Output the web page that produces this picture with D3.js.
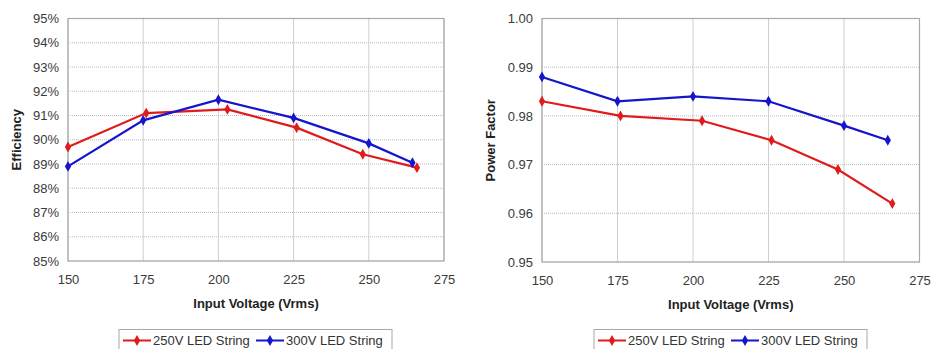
<!DOCTYPE html>
<html lang="en">
<head>
<meta charset="UTF-8">
<title>Efficiency and Power Factor</title>
<script src="https://cdn.jsdelivr.net/npm/d3@7"></script>
<style>
    html, body { margin: 0; padding: 0; background: #fff; }
    text { font-family: "Liberation Sans", Arial, sans-serif; fill: #333; }
    .tick text { font-size: 13px; fill: #3a3a3a; }
    .title { font-size: 13px; font-weight: bold; fill: #222; }
    .legend text { font-size: 13px; }
</style>
</head>
<body>
<script>
// data
var seriesNames = ["250V LED String", "300V LED String"];
var seriesColors = ["#e01b1b", "#1515cc"];

var effVoltsRed  = [150, 176, 203, 226, 248, 266];
var effRed       = [89.7, 91.1, 91.25, 90.5, 89.4, 88.85];
var effVoltsBlue = [150, 175, 200, 225, 250, 264.5];
var effBlue      = [88.9, 90.8, 91.65, 90.9, 89.85, 89.05];

var pfVoltsRed  = [150, 176, 203, 226, 248, 266];
var pfRed       = [0.983, 0.980, 0.979, 0.975, 0.969, 0.962];
var pfVoltsBlue = [150, 175, 200, 225, 250, 264.5];
var pfBlue      = [0.988, 0.983, 0.984, 0.983, 0.978, 0.975];

var xTicks = [150, 175, 200, 225, 250, 275];
var effTicks = [85, 86, 87, 88, 89, 90, 91, 92, 93, 94, 95];
var pfTicks = [0.95, 0.96, 0.97, 0.98, 0.99, 1.00];

var svg = d3.select("body").append("svg").attr("width", 931).attr("height", 349);

function zip(xs, ys) { return xs.map(function(x, i) { return { v: x, y: ys[i] }; }); }

function drawChart(opt) {
    var g = svg.append("g");
    var x = d3.scaleLinear().domain([150, 275]).range([opt.left, opt.right]);
    var y = d3.scaleLinear().domain(opt.yDomain).range([opt.bottom, opt.top]);

    // horizontal grid (dotted)
    g.selectAll("line.hg").data(opt.yTicks).enter().append("line")
        .attr("x1", opt.left).attr("x2", opt.right)
        .attr("y1", function(d) { return y(d); }).attr("y2", function(d) { return y(d); })
        .attr("stroke", "#bdbdbd").attr("stroke-width", 1).attr("stroke-dasharray", "1,1");
    // vertical grid
    g.selectAll("line.vg").data(xTicks).enter().append("line")
        .attr("y1", opt.top).attr("y2", opt.bottom)
        .attr("x1", function(d) { return x(d); }).attr("x2", function(d) { return x(d); })
        .attr("stroke", "#cfcfcf").attr("stroke-width", 1);
    // plot border
    g.append("rect").attr("x", opt.left).attr("y", opt.top)
        .attr("width", opt.right - opt.left).attr("height", opt.bottom - opt.top)
        .attr("fill", "none").attr("stroke", "#a8a8a8").attr("stroke-width", 1.2);

    var xAxis = d3.axisBottom(x).tickValues(xTicks).tickSize(0).tickPadding(14);
    var xg = g.append("g").attr("transform", "translate(0," + opt.bottom + ")").call(xAxis);
    xg.select(".domain").remove();

    var yAxis = d3.axisLeft(y).tickValues(opt.yTicks).tickSize(0).tickPadding(9).tickFormat(opt.fmt);
    var yg = g.append("g").attr("transform", "translate(" + opt.left + ",0)").call(yAxis);
    yg.select(".domain").remove();

    g.append("text").attr("class", "title")
        .attr("x", (opt.left + opt.right) / 2).attr("y", opt.bottom + 47)
        .attr("text-anchor", "middle").text("Input Voltage (Vrms)");
    g.append("text").attr("class", "title")
        .attr("transform", "translate(" + opt.yLabelX + "," + ((opt.top + opt.bottom) / 2) + ") rotate(-90)")
        .attr("text-anchor", "middle").text(opt.yLabel);

    var line = d3.line().x(function(d) { return x(d.v); }).y(function(d) { return y(d.y); });
    var diamond = d3.symbol().type(d3.symbolDiamond).size(34);

    opt.series.forEach(function(s, i) {
        g.append("path").datum(s).attr("d", line)
            .attr("fill", "none").attr("stroke", seriesColors[i]).attr("stroke-width", 2.2);
        g.selectAll("path.m" + i).data(s).enter().append("path")
            .attr("d", diamond)
            .attr("transform", function(d) { return "translate(" + x(d.v) + "," + y(d.y) + ")"; })
            .attr("fill", seriesColors[i]);
    });

    // legend
    var lg = g.append("g").attr("class", "legend");
    lg.append("rect").attr("x", opt.legX).attr("y", 329.5).attr("width", 273).attr("height", 24)
        .attr("fill", "#fff").attr("stroke", "#a8a8a8");
    var offs = [4, 137];
    seriesNames.forEach(function(name, i) {
        var lx = opt.legX + offs[i];
        lg.append("line").attr("x1", lx).attr("x2", lx + 28).attr("y1", 340.5).attr("y2", 340.5)
            .attr("stroke", seriesColors[i]).attr("stroke-width", 2);
        lg.append("path").attr("d", diamond).attr("transform", "translate(" + (lx + 14) + ",340.5)")
            .attr("fill", seriesColors[i]);
        lg.append("text").attr("x", lx + 30).attr("y", 345).text(name);
    });
}

drawChart({
    left: 68, right: 444, top: 18.5, bottom: 261,
    yDomain: [85, 95], yTicks: effTicks,
    fmt: function(d) { return d + "%"; },
    yLabel: "Efficiency", yLabelX: 21, legX: 119,
    series: [zip(effVoltsRed, effRed), zip(effVoltsBlue, effBlue)]
});

drawChart({
    left: 542, right: 919.5, top: 18.5, bottom: 262,
    yDomain: [0.95, 1.00], yTicks: pfTicks,
    fmt: d3.format(".2f"),
    yLabel: "Power Factor", yLabelX: 495, legX: 594,
    series: [zip(pfVoltsRed, pfRed), zip(pfVoltsBlue, pfBlue)]
});
</script>
</body>
</html>
